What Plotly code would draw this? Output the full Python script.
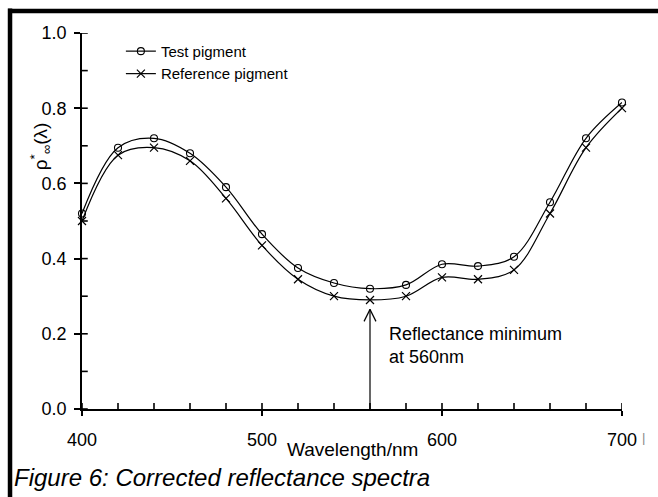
import plotly.graph_objects as go

# ---- data ----
wavelength = [400, 420, 440, 460, 480, 500, 520, 540, 560, 580, 600, 620, 640, 660, 680, 700]
test_pigment = [0.52, 0.695, 0.72, 0.68, 0.59, 0.465, 0.375, 0.335, 0.32, 0.33, 0.385, 0.38, 0.405, 0.55, 0.72, 0.815]
reference_pigment = [0.50, 0.675, 0.695, 0.66, 0.56, 0.435, 0.345, 0.30, 0.29, 0.30, 0.35, 0.345, 0.37, 0.52, 0.695, 0.80]
x_ticks = [400, 500, 600, 700]
x_minor_ticks = [420, 440, 460, 480, 520, 540, 560, 580, 620, 640, 660, 680]
y_ticks = [0.0, 0.2, 0.4, 0.6, 0.8, 1.0]
y_minor_ticks = [0.1, 0.3, 0.5, 0.7, 0.9]

FONT = "Liberation Sans, Arial, sans-serif"
X_MIN, X_MAX, Y_MIN, Y_MAX = 400, 700, 0.0, 1.0
TICK_IN_Y = 0.016   # inward tick length on the x axis, in y units (~6px)
TICK_IN_X = 3.2     # inward tick length on the y axis, in x units (~6px)

fig = go.Figure()

# inward ticks (major inner halves + minor) drawn as a plain line trace
tx, ty = [], []
for v in x_ticks + x_minor_ticks:
    tx += [v, v, None]
    ty += [Y_MIN, Y_MIN + TICK_IN_Y, None]
for v in y_ticks + y_minor_ticks:
    tx += [X_MIN, X_MIN + TICK_IN_X, None]
    ty += [v, v, None]
fig.add_trace(go.Scatter(x=tx, y=ty, mode="lines", line=dict(color="black", width=1.6),
                         showlegend=False, hoverinfo="skip", cliponaxis=False,
                         connectgaps=False))

fig.add_trace(go.Scatter(
    x=wavelength, y=test_pigment, name="Test pigment",
    mode="lines+markers", line=dict(color="black", width=1.2, shape="spline", smoothing=1.0),
    marker=dict(symbol="circle-open", size=7, color="black", line=dict(width=1.1)),
    cliponaxis=False,
))
fig.add_trace(go.Scatter(
    x=wavelength, y=reference_pigment, name="Reference pigment",
    mode="lines+markers", line=dict(color="black", width=1.2, shape="spline", smoothing=1.0),
    marker=dict(symbol="x-thin-open", size=8, color="black", line=dict(width=1.2)),
    cliponaxis=False,
))

# minimum of reference curve
imin = min(range(len(reference_pigment)), key=lambda i: reference_pigment[i])
ARROW_X = wavelength[imin]
tip = reference_pigment[imin] - 0.025
head = 0.032
hw = 3.3

def seg(x0, x1, y0, y1, w=1.2):
    return dict(type="line", xref="x", yref="y", x0=x0, x1=x1, y0=y0, y1=y1,
                layer="above", line=dict(color="black", width=w))

shapes = [
    seg(ARROW_X, ARROW_X, Y_MIN, tip),
    seg(ARROW_X - hw, ARROW_X, tip - head, tip),
    seg(ARROW_X + hw, ARROW_X, tip - head, tip),
    # frame borders (top and left)
    dict(type="line", xref="paper", yref="paper", x0=-0.137, x1=1.08, y0=1.0585, y1=1.0585,
         line=dict(color="black", width=4.5)),
    dict(type="line", xref="paper", yref="paper", x0=-0.1333, x1=-0.1333, y0=1.065, y1=-0.25,
         line=dict(color="black", width=4.5)),
]

annotations = [
    dict(x=ARROW_X + 9.5, y=0.17, xref="x", yref="y", xanchor="left", yanchor="middle",
         text="Reflectance minimum<br>at 560nm", showarrow=False, align="left",
         font=dict(family=FONT, size=18, color="black")),
    dict(x=-0.1296, y=-0.183, xref="paper", yref="paper", xanchor="left", yanchor="middle",
         text="<i>Figure 6: Corrected reflectance spectra</i>", showarrow=False,
         font=dict(family=FONT, size=24, color="black")),
    dict(x=-0.077, y=0.70, xref="paper", yref="paper", xanchor="center", yanchor="middle",
         text="ρ<sup>*</sup><sub>∞</sub>(λ)", showarrow=False, textangle=-90,
         font=dict(family=FONT, size=19, color="black")),
    dict(x=1.039, y=-0.0745, xref="paper", yref="paper", xanchor="center", yanchor="middle",
         text="|", showarrow=False, font=dict(family=FONT, size=13, color="#888888")),
    dict(x=0.5, y=-0.109, xref="paper", yref="paper", xanchor="center", yanchor="middle",
         text="Wavelength/nm", showarrow=False,
         font=dict(family=FONT, size=19, color="black")),
]

fig.update_layout(
    width=658, height=497,
    margin=dict(l=82, r=36, t=33, b=88),
    paper_bgcolor="white", plot_bgcolor="white",
    font=dict(family=FONT, color="black"),
    showlegend=True,
    legend=dict(x=0.072, y=0.995, xanchor="left", yanchor="top", bgcolor="rgba(0,0,0,0)",
                font=dict(family=FONT, size=15, color="black"), tracegroupgap=0),
    shapes=shapes,
    annotations=annotations,
    xaxis=dict(range=[X_MIN, X_MAX], showgrid=False, zeroline=False, showline=True,
               linecolor="black", linewidth=2, ticks="outside", ticklen=5, tickwidth=1.6,
               tickcolor="black", tickmode="array", tickvals=x_ticks, ticklabelstandoff=8,
               tickfont=dict(family=FONT, size=18, color="black")),
    yaxis=dict(range=[Y_MIN, Y_MAX], showgrid=False, zeroline=False, showline=True,
               linecolor="black", linewidth=1.5, ticks="outside", ticklen=6, tickwidth=1.6,
               tickcolor="black", tickmode="array", tickvals=y_ticks,
               ticktext=[f"{v:.1f}" for v in y_ticks], ticklabelstandoff=4,
               tickfont=dict(family=FONT, size=18, color="black")),
)

fig.write_html("out.html")
